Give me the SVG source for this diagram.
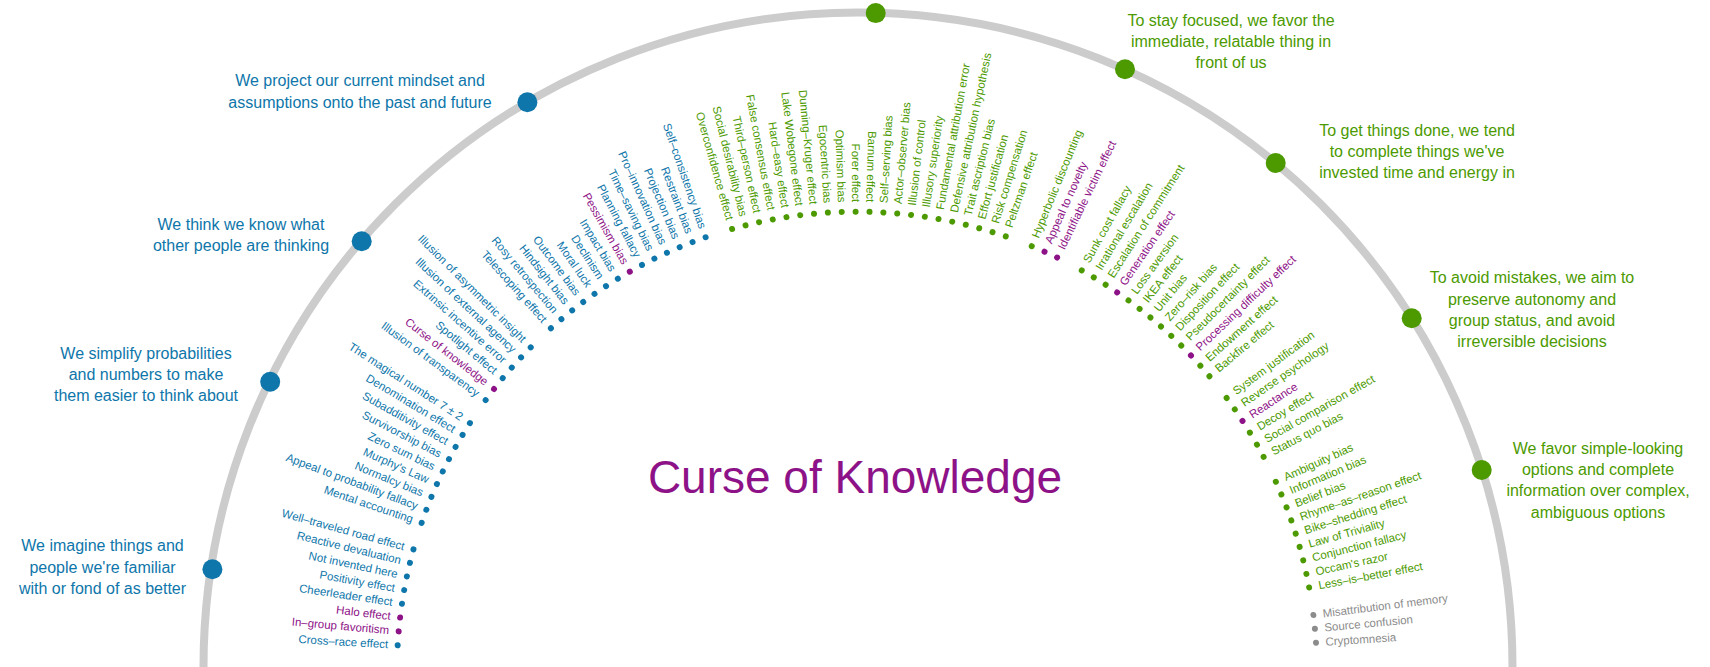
<svg xmlns="http://www.w3.org/2000/svg" width="1710" height="667" viewBox="0 0 1710 667">
<style>
text{font-family:"Liberation Sans",Arial,sans-serif}
.it{font-size:11.5px}
.L{text-anchor:end}
.R{text-anchor:start}
.cat{font-size:16px;text-anchor:middle}
.b{fill:#0e76aa}.g{fill:#4c9a00}.p{fill:#8e1287}.k{fill:#8c8c8c}
</style>
<rect width="1710" height="667" fill="#ffffff"/>
<g id="ring"><path d="M203.5,667 A654.5,654.5 0 0 1 1512.5,667" fill="none" stroke="#cccccc" stroke-width="8"/></g>
<g id="title"><text x="855" y="493" font-size="46" text-anchor="middle" class="p">Curse of Knowledge</text></g>
<g id="categories">
<g id="cat-familiar"><circle cx="212.4" cy="569.3" r="10" class="b"/><text class="cat b" x="102.5" y="551.3"><tspan x="102.5">We imagine things and</tspan><tspan x="102.5" dy="21.5">people we're familiar</tspan><tspan x="102.5" dy="21.5">with or fond of as better</tspan></text></g>
<g id="cat-simplify"><circle cx="270.2" cy="381.7" r="10" class="b"/><text class="cat b" x="146" y="359"><tspan x="146">We simplify probabilities</tspan><tspan x="146" dy="21.2">and numbers to make</tspan><tspan x="146" dy="21.2">them easier to think about</tspan></text></g>
<g id="cat-others"><circle cx="361.7" cy="241.3" r="10" class="b"/><text class="cat b" x="241" y="230"><tspan x="241">We think we know what</tspan><tspan x="241" dy="21.3">other people are thinking</tspan></text></g>
<g id="cat-project"><circle cx="527.4" cy="102.3" r="10" class="b"/><text class="cat b" x="360" y="86"><tspan x="360">We project our current mindset and</tspan><tspan x="360" dy="21.5">assumptions onto the past and future</tspan></text></g>
<g id="cat-act"><circle cx="875.7" cy="13.1" r="10" class="g"/></g>
<g id="cat-focus"><circle cx="1125" cy="69.3" r="10" class="g"/><text class="cat g" x="1231" y="26.3"><tspan x="1231">To stay focused, we favor the</tspan><tspan x="1231" dy="21">immediate, relatable thing in</tspan><tspan x="1231" dy="21">front of us</tspan></text></g>
<g id="cat-done"><circle cx="1275.7" cy="163" r="10" class="g"/><text class="cat g" x="1417" y="135.6"><tspan x="1417">To get things done, we tend</tspan><tspan x="1417" dy="21.3">to complete things we've</tspan><tspan x="1417" dy="21.3">invested time and energy in</tspan></text></g>
<g id="cat-mistakes"><circle cx="1411.7" cy="318.3" r="10" class="g"/><text class="cat g" x="1532" y="283.3"><tspan x="1532">To avoid mistakes, we aim to</tspan><tspan x="1532" dy="21.3">preserve autonomy and</tspan><tspan x="1532" dy="21.3">group status, and avoid</tspan><tspan x="1532" dy="21.3">irreversible decisions</tspan></text></g>
<g id="cat-simple"><circle cx="1481.7" cy="470" r="10" class="g"/><text class="cat g" x="1598" y="454"><tspan x="1598">We favor simple-looking</tspan><tspan x="1598" dy="21.2">options and complete</tspan><tspan x="1598" dy="21.2">information over complex,</tspan><tspan x="1598" dy="21.2">ambiguous options</tspan></text></g>
</g>
<g id="items" transform="translate(856.9,671.7)" class="it">
<g id="grp-familiar">
<g transform="rotate(3.30)" class="b"><circle cx="-460" r="3"/><text class="L" x="-469.5" dy="0.31em">Cross–race effect</text></g>
<g transform="rotate(5.03)" class="p"><circle cx="-460" r="3"/><text class="L" x="-469.5" dy="0.31em">In–group favoritism</text></g>
<g transform="rotate(6.76)" class="p"><circle cx="-460" r="3"/><text class="L" x="-469.5" dy="0.31em">Halo effect</text></g>
<g transform="rotate(8.49)" class="b"><circle cx="-460" r="3"/><text class="L" x="-469.5" dy="0.31em">Cheerleader effect</text></g>
<g transform="rotate(10.22)" class="b"><circle cx="-460" r="3"/><text class="L" x="-469.5" dy="0.31em">Positivity effect</text></g>
<g transform="rotate(11.95)" class="b"><circle cx="-460" r="3"/><text class="L" x="-469.5" dy="0.31em">Not invented here</text></g>
<g transform="rotate(13.68)" class="b"><circle cx="-460" r="3"/><text class="L" x="-469.5" dy="0.31em">Reactive devaluation</text></g>
<g transform="rotate(15.42)" class="b"><circle cx="-460" r="3"/><text class="L" x="-469.5" dy="0.31em">Well–traveled road effect</text></g>
</g>
<g id="grp-simplify">
<g transform="rotate(18.88)" class="b"><circle cx="-460" r="3"/><text class="L" x="-469.5" dy="0.31em">Mental accounting</text></g>
<g transform="rotate(20.61)" class="b"><circle cx="-460" r="3"/><text class="L" x="-469.5" dy="0.31em">Appeal to probability fallacy</text></g>
<g transform="rotate(22.34)" class="b"><circle cx="-460" r="3"/><text class="L" x="-469.5" dy="0.31em">Normalcy bias</text></g>
<g transform="rotate(24.07)" class="b"><circle cx="-460" r="3"/><text class="L" x="-469.5" dy="0.31em">Murphy's Law</text></g>
<g transform="rotate(25.80)" class="b"><circle cx="-460" r="3"/><text class="L" x="-469.5" dy="0.31em">Zero sum bias</text></g>
<g transform="rotate(27.53)" class="b"><circle cx="-460" r="3"/><text class="L" x="-469.5" dy="0.31em">Survivorship bias</text></g>
<g transform="rotate(29.26)" class="b"><circle cx="-460" r="3"/><text class="L" x="-469.5" dy="0.31em">Subadditivity effect</text></g>
<g transform="rotate(30.99)" class="b"><circle cx="-460" r="3"/><text class="L" x="-469.5" dy="0.31em">Denomination effect</text></g>
<g transform="rotate(32.72)" class="b"><circle cx="-460" r="3"/><text class="L" x="-469.5" dy="0.31em">The magical number 7 ± 2</text></g>
</g>
<g id="grp-others">
<g transform="rotate(36.19)" class="b"><circle cx="-460" r="3"/><text class="L" x="-469.5" dy="0.31em">Illusion of transparency</text></g>
<g transform="rotate(37.92)" class="p"><circle cx="-460" r="3"/><text class="L" x="-469.5" dy="0.31em">Curse of knowledge</text></g>
<g transform="rotate(39.65)" class="b"><circle cx="-460" r="3"/><text class="L" x="-469.5" dy="0.31em">Spotlight effect</text></g>
<g transform="rotate(41.38)" class="b"><circle cx="-460" r="3"/><text class="L" x="-469.5" dy="0.31em">Extrinsic incentive error</text></g>
<g transform="rotate(43.11)" class="b"><circle cx="-460" r="3"/><text class="L" x="-469.5" dy="0.31em">Illusion of external agency</text></g>
<g transform="rotate(44.84)" class="b"><circle cx="-460" r="3"/><text class="L" x="-469.5" dy="0.31em">Illusion of asymmetric insight</text></g>
</g>
<g id="grp-project">
<g transform="rotate(48.30)" class="b"><circle cx="-460" r="3"/><text class="L" x="-469.5" dy="0.31em">Telescoping effect</text></g>
<g transform="rotate(50.03)" class="b"><circle cx="-460" r="3"/><text class="L" x="-469.5" dy="0.31em">Rosy retrospection</text></g>
<g transform="rotate(51.76)" class="b"><circle cx="-460" r="3"/><text class="L" x="-469.5" dy="0.31em">Hindsight bias</text></g>
<g transform="rotate(53.49)" class="b"><circle cx="-460" r="3"/><text class="L" x="-469.5" dy="0.31em">Outcome bias</text></g>
<g transform="rotate(55.22)" class="b"><circle cx="-460" r="3"/><text class="L" x="-469.5" dy="0.31em">Moral luck</text></g>
<g transform="rotate(56.95)" class="b"><circle cx="-460" r="3"/><text class="L" x="-469.5" dy="0.31em">Declinism</text></g>
<g transform="rotate(58.69)" class="b"><circle cx="-460" r="3"/><text class="L" x="-469.5" dy="0.31em">Impact bias</text></g>
<g transform="rotate(60.42)" class="p"><circle cx="-460" r="3"/><text class="L" x="-469.5" dy="0.31em">Pessimism bias</text></g>
<g transform="rotate(62.15)" class="b"><circle cx="-460" r="3"/><text class="L" x="-469.5" dy="0.31em">Planning fallacy</text></g>
<g transform="rotate(63.88)" class="b"><circle cx="-460" r="3"/><text class="L" x="-469.5" dy="0.31em">Time–saving bias</text></g>
<g transform="rotate(65.61)" class="b"><circle cx="-460" r="3"/><text class="L" x="-469.5" dy="0.31em">Pro–innovation bias</text></g>
<g transform="rotate(67.34)" class="b"><circle cx="-460" r="3"/><text class="L" x="-469.5" dy="0.31em">Projection bias</text></g>
<g transform="rotate(69.07)" class="b"><circle cx="-460" r="3"/><text class="L" x="-469.5" dy="0.31em">Restraint bias</text></g>
<g transform="rotate(70.80)" class="b"><circle cx="-460" r="3"/><text class="L" x="-469.5" dy="0.31em">Self–consistency bias</text></g>
</g>
<g id="grp-act">
<g transform="rotate(74.26)" class="g"><circle cx="-460" r="3"/><text class="L" x="-469.5" dy="0.31em">Overconfidence effect</text></g>
<g transform="rotate(75.99)" class="g"><circle cx="-460" r="3"/><text class="L" x="-469.5" dy="0.31em">Social desirability bias</text></g>
<g transform="rotate(77.72)" class="g"><circle cx="-460" r="3"/><text class="L" x="-469.5" dy="0.31em">Third–person effect</text></g>
<g transform="rotate(79.46)" class="g"><circle cx="-460" r="3"/><text class="L" x="-469.5" dy="0.31em">False consensus effect</text></g>
<g transform="rotate(81.19)" class="g"><circle cx="-460" r="3"/><text class="L" x="-469.5" dy="0.31em">Hard–easy effect</text></g>
<g transform="rotate(82.92)" class="g"><circle cx="-460" r="3"/><text class="L" x="-469.5" dy="0.31em">Lake Wobegone effect</text></g>
<g transform="rotate(84.65)" class="g"><circle cx="-460" r="3"/><text class="L" x="-469.5" dy="0.31em">Dunning–Kruger effect</text></g>
<g transform="rotate(86.38)" class="g"><circle cx="-460" r="3"/><text class="L" x="-469.5" dy="0.31em">Egocentric bias</text></g>
<g transform="rotate(88.11)" class="g"><circle cx="-460" r="3"/><text class="L" x="-469.5" dy="0.31em">Optimism bias</text></g>
<g transform="rotate(89.84)" class="g"><circle cx="-460" r="3"/><text class="L" x="-469.5" dy="0.31em">Forer effect</text></g>
<g transform="rotate(91.57)" class="g"><circle cx="-460" r="3"/><text class="L" x="-469.5" dy="0.31em">Barnum effect</text></g>
<g transform="rotate(-86.70)" class="g"><circle cx="460" r="3"/><text class="R" x="469.5" dy="0.31em">Self–serving bias</text></g>
<g transform="rotate(-84.97)" class="g"><circle cx="460" r="3"/><text class="R" x="469.5" dy="0.31em">Actor–observer bias</text></g>
<g transform="rotate(-83.24)" class="g"><circle cx="460" r="3"/><text class="R" x="469.5" dy="0.31em">Illusion of control</text></g>
<g transform="rotate(-81.51)" class="g"><circle cx="460" r="3"/><text class="R" x="469.5" dy="0.31em">Illusory superiority</text></g>
<g transform="rotate(-79.78)" class="g"><circle cx="460" r="3"/><text class="R" x="469.5" dy="0.31em">Fundamental attribution error</text></g>
<g transform="rotate(-78.04)" class="g"><circle cx="460" r="3"/><text class="R" x="469.5" dy="0.31em">Defensive attribution hypothesis</text></g>
<g transform="rotate(-76.31)" class="g"><circle cx="460" r="3"/><text class="R" x="469.5" dy="0.31em">Trait ascription bias</text></g>
<g transform="rotate(-74.58)" class="g"><circle cx="460" r="3"/><text class="R" x="469.5" dy="0.31em">Effort justification</text></g>
<g transform="rotate(-72.85)" class="g"><circle cx="460" r="3"/><text class="R" x="469.5" dy="0.31em">Risk compensation</text></g>
<g transform="rotate(-71.12)" class="g"><circle cx="460" r="3"/><text class="R" x="469.5" dy="0.31em">Peltzman effect</text></g>
</g>
<g id="grp-focus">
<g transform="rotate(-67.66)" class="g"><circle cx="460" r="3"/><text class="R" x="469.5" dy="0.31em">Hyperbolic discounting</text></g>
<g transform="rotate(-65.93)" class="p"><circle cx="460" r="3"/><text class="R" x="469.5" dy="0.31em">Appeal to novelty</text></g>
<g transform="rotate(-64.20)" class="p"><circle cx="460" r="3"/><text class="R" x="469.5" dy="0.31em">Identifiable victim effect</text></g>
</g>
<g id="grp-done">
<g transform="rotate(-60.74)" class="g"><circle cx="460" r="3"/><text class="R" x="469.5" dy="0.31em">Sunk cost fallacy</text></g>
<g transform="rotate(-59.01)" class="g"><circle cx="460" r="3"/><text class="R" x="469.5" dy="0.31em">Irrational escalation</text></g>
<g transform="rotate(-57.27)" class="g"><circle cx="460" r="3"/><text class="R" x="469.5" dy="0.31em">Escalation of commitment</text></g>
<g transform="rotate(-55.54)" class="p"><circle cx="460" r="3"/><text class="R" x="469.5" dy="0.31em">Generation effect</text></g>
<g transform="rotate(-53.81)" class="g"><circle cx="460" r="3"/><text class="R" x="469.5" dy="0.31em">Loss aversion</text></g>
<g transform="rotate(-52.08)" class="g"><circle cx="460" r="3"/><text class="R" x="469.5" dy="0.31em">IKEA effect</text></g>
<g transform="rotate(-50.35)" class="g"><circle cx="460" r="3"/><text class="R" x="469.5" dy="0.31em">Unit bias</text></g>
<g transform="rotate(-48.62)" class="g"><circle cx="460" r="3"/><text class="R" x="469.5" dy="0.31em">Zero–risk bias</text></g>
<g transform="rotate(-46.89)" class="g"><circle cx="460" r="3"/><text class="R" x="469.5" dy="0.31em">Disposition effect</text></g>
<g transform="rotate(-45.16)" class="g"><circle cx="460" r="3"/><text class="R" x="469.5" dy="0.31em">Pseudocertainty effect</text></g>
<g transform="rotate(-43.43)" class="p"><circle cx="460" r="3"/><text class="R" x="469.5" dy="0.31em">Processing difficulty effect</text></g>
<g transform="rotate(-41.70)" class="g"><circle cx="460" r="3"/><text class="R" x="469.5" dy="0.31em">Endowment effect</text></g>
<g transform="rotate(-39.97)" class="g"><circle cx="460" r="3"/><text class="R" x="469.5" dy="0.31em">Backfire effect</text></g>
</g>
<g id="grp-mistakes">
<g transform="rotate(-36.51)" class="g"><circle cx="460" r="3"/><text class="R" x="469.5" dy="0.31em">System justification</text></g>
<g transform="rotate(-34.77)" class="g"><circle cx="460" r="3"/><text class="R" x="469.5" dy="0.31em">Reverse psychology</text></g>
<g transform="rotate(-33.04)" class="p"><circle cx="460" r="3"/><text class="R" x="469.5" dy="0.31em">Reactance</text></g>
<g transform="rotate(-31.31)" class="g"><circle cx="460" r="3"/><text class="R" x="469.5" dy="0.31em">Decoy effect</text></g>
<g transform="rotate(-29.58)" class="g"><circle cx="460" r="3"/><text class="R" x="469.5" dy="0.31em">Social comparison effect</text></g>
<g transform="rotate(-27.85)" class="g"><circle cx="460" r="3"/><text class="R" x="469.5" dy="0.31em">Status quo bias</text></g>
</g>
<g id="grp-simple">
<g transform="rotate(-24.39)" class="g"><circle cx="460" r="3"/><text class="R" x="469.5" dy="0.31em">Ambiguity bias</text></g>
<g transform="rotate(-22.66)" class="g"><circle cx="460" r="3"/><text class="R" x="469.5" dy="0.31em">Information bias</text></g>
<g transform="rotate(-20.93)" class="g"><circle cx="460" r="3"/><text class="R" x="469.5" dy="0.31em">Belief bias</text></g>
<g transform="rotate(-19.20)" class="g"><circle cx="460" r="3"/><text class="R" x="469.5" dy="0.31em">Rhyme–as–reason effect</text></g>
<g transform="rotate(-17.47)" class="g"><circle cx="460" r="3"/><text class="R" x="469.5" dy="0.31em">Bike–shedding effect</text></g>
<g transform="rotate(-15.74)" class="g"><circle cx="460" r="3"/><text class="R" x="469.5" dy="0.31em">Law of Triviality</text></g>
<g transform="rotate(-14.01)" class="g"><circle cx="460" r="3"/><text class="R" x="469.5" dy="0.31em">Conjunction fallacy</text></g>
<g transform="rotate(-12.27)" class="g"><circle cx="460" r="3"/><text class="R" x="469.5" dy="0.31em">Occam's razor</text></g>
<g transform="rotate(-10.54)" class="g"><circle cx="460" r="3"/><text class="R" x="469.5" dy="0.31em">Less–is–better effect</text></g>
</g>
<g id="grp-memory">
<g transform="rotate(-7.08)" class="k"><circle cx="460" r="3"/><text class="R" x="469.5" dy="0.31em">Misattribution of memory</text></g>
<g transform="rotate(-5.35)" class="k"><circle cx="460" r="3"/><text class="R" x="469.5" dy="0.31em">Source confusion</text></g>
<g transform="rotate(-3.62)" class="k"><circle cx="460" r="3"/><text class="R" x="469.5" dy="0.31em">Cryptomnesia</text></g>
</g>
</g>
</svg>
